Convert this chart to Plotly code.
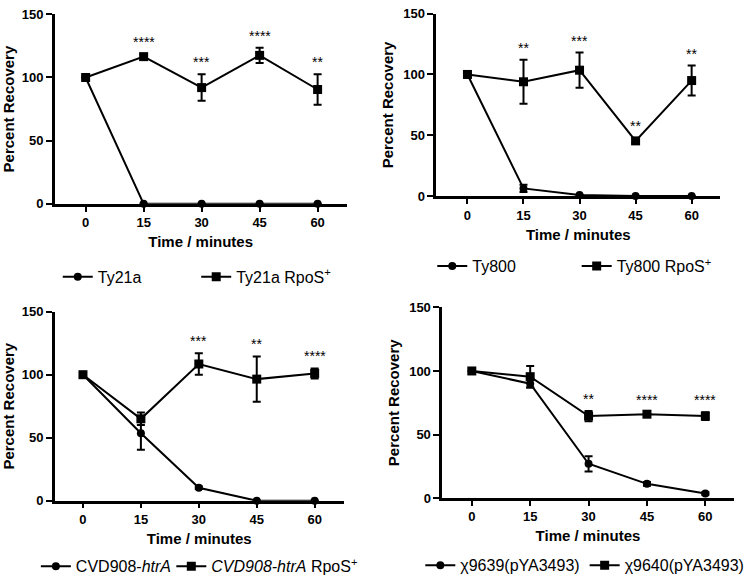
import plotly.graph_objects as go

# ---------------- data ----------------
time_min = [0, 15, 30, 45, 60]
tick_vals_x = [0, 15, 30, 45, 60]
tick_vals_y = [0, 50, 100, 150]

ty21a = [100, 0, 0, 0, 0]
ty21a_err = [0, 0, 0, 0, 0]
ty21a_rpos = [100, 116.5, 92, 117.5, 90.5]
ty21a_rpos_err = [0, 2, 10.5, 6, 12]
stars_a = ["", "****", "***", "****", "**"]

ty800 = [100, 6.5, 1, 0.3, 0.3]
ty800_err = [0, 3, 0, 0, 0]
ty800_rpos = [100, 94, 103.5, 45.5, 95]
ty800_rpos_err = [0, 18, 14.5, 2, 12.3]
stars_b = ["", "**", "***", "**", "**"]

cvd908 = [100, 53.5, 10.3, 0, 0]
cvd908_err = [0, 13, 1, 0, 0]
cvd908_rpos = [100, 65, 108.5, 96.5, 101]
cvd908_rpos_err = [0, 5, 8.5, 18, 4]
stars_c = ["", "", "***", "**", "****"]

chi9639 = [100, 90, 27, 11.2, 3.6]
chi9639_err = [0, 3, 6, 1.5, 1]
chi9640 = [100, 95.5, 64.5, 66, 64.5]
chi9640_err = [0, 8.5, 4, 1.5, 3]
stars_d = ["", "", "**", "****", "****"]

names = {
    "a1": "Ty21a", "a2": "Ty21a RpoS<sup>+</sup>",
    "b1": "Ty800", "b2": "Ty800 RpoS<sup>+</sup>",
    "c1": "CVD908-<i>htrA</i>", "c2": "<i>CVD908-htrA</i> RpoS<sup>+</sup>",
    "d1": "\u03c79639(pYA3493)", "d2": "\u03c79640(pYA3493)",
}

W, H = 750, 586
FONT = "Liberation Sans, Arial, sans-serif"

def px_x(p):
    return p / W

def px_y(p):
    return 1 - p / H

panels = [
    dict(ax="", xd=(55, 348), yd=(7.5, 202), xr=(-7.98, 67.5)),
    dict(ax="2", xd=(438, 723.3), yd=(6.7, 194.3), xr=(-8.35, 67.7)),
    dict(ax="3", xd=(55, 345), yd=(312.7, 506.7), xr=(-7.3, 67.5)),
    dict(ax="4", xd=(444, 736.7), yd=(308.3, 504), xr=(-7.6, 67.3)),
]

series = [
    (ty21a, ty21a_err, ty21a_rpos, ty21a_rpos_err, stars_a, "a"),
    (ty800, ty800_err, ty800_rpos, ty800_rpos_err, stars_b, "b"),
    (cvd908, cvd908_err, cvd908_rpos, cvd908_rpos_err, stars_c, "c"),
    (chi9639, chi9639_err, chi9640, chi9640_err, stars_d, "d"),
]

legend_pos = {
    "a": [(99, 277), (238, 277)],
    "b": [(475, 266), (620, 266)],
    "c": [(77, 574), (213, 574)],
    "d": [(463, 573), (628, 573)],
}

fig = go.Figure()
annotations = []
layout_upd = {}
legend_idx = 0

for p, (y1, e1, y2, e2, stars, key) in zip(panels, series):
    xa = "x" + p["ax"]
    ya = "y" + p["ax"]
    for j, (yy, ee, sym, msize) in enumerate([(y1, e1, "circle", 8), (y2, e2, "square", 9)]):
        legend_idx += 1
        lname = "legend" if legend_idx == 1 else f"legend{legend_idx}"
        fig.add_trace(go.Scatter(
            x=time_min, y=yy, mode="lines+markers",
            name=names[key + str(j + 1)],
            line=dict(color="black", width=2),
            marker=dict(symbol=sym, size=msize, color="black"),
            error_y=dict(type="data", array=ee, visible=True,
                         color="black", thickness=2, width=4),
            xaxis=xa, yaxis=ya, cliponaxis=False,
            legend=lname, showlegend=True,
        ))
        tx, ty = legend_pos[key][j]
        layout_upd[lname] = dict(
            x=px_x(tx - 41), y=px_y(ty), xanchor="left", yanchor="middle",
            orientation="h", bgcolor="rgba(0,0,0,0)", borderwidth=0,
            font=dict(family=FONT, size=16, color="black"),
            itemwidth=30,
        )
    for t, s, m, e in zip(time_min, stars, y2, e2):
        if s:
            annotations.append(dict(
                x=t, y=m + e, xref=xa, yref=ya, text=s, showarrow=False,
                yanchor="middle", yshift=12,
                font=dict(family=FONT, size=14, color="black"),
            ))
    axname_x = "xaxis" + p["ax"]
    axname_y = "yaxis" + p["ax"]
    layout_upd[axname_x] = dict(
        domain=[px_x(p["xd"][0]), px_x(p["xd"][1])],
        range=list(p["xr"]), anchor=ya,
        tickvals=tick_vals_x, ticks="outside", ticklen=5, tickwidth=2,
        tickcolor="black", showline=True, linecolor="black", linewidth=2.5,
        showgrid=False, zeroline=False,
        tickfont=dict(family=FONT, size=13, color="black", weight="bold"),
        title=dict(text="Time / minutes", standoff=8,
                   font=dict(family=FONT, size=15, color="black", weight="bold")),
    )
    layout_upd[axname_y] = dict(
        domain=[px_y(p["yd"][1]), px_y(p["yd"][0])],
        range=[0, 150], anchor=xa,
        tickvals=tick_vals_y, ticks="outside", ticklen=6, tickwidth=2,
        tickcolor="black", showline=True, linecolor="black", linewidth=2.5,
        showgrid=False, zeroline=False,
        tickfont=dict(family=FONT, size=13, color="black", weight="bold"),
        title=dict(text="Percent Recovery", standoff=6,
                   font=dict(family=FONT, size=15, color="black", weight="bold")),
    )

fig.update_layout(
    width=W, height=H,
    margin=dict(l=0, r=0, t=0, b=0),
    paper_bgcolor="white", plot_bgcolor="white",
    annotations=annotations,
    **layout_upd,
)

fig.write_html("out.html", config={"displayModeBar": False},
               post_script="document.body.style.margin='0';")
